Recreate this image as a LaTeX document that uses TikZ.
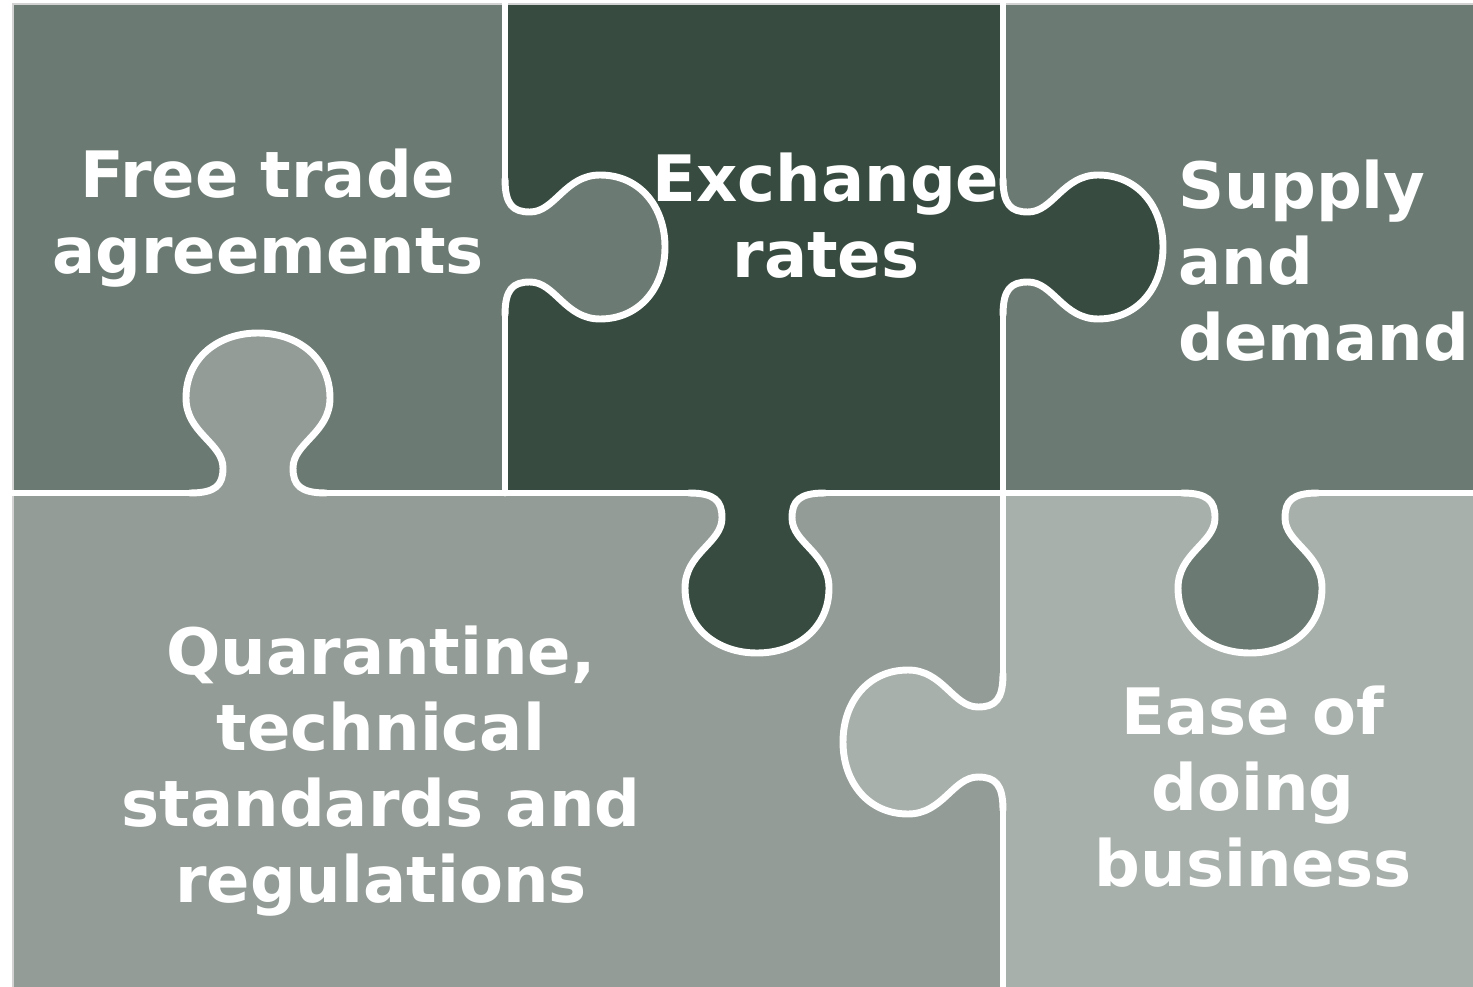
\documentclass[tikz,border=0pt]{standalone}
\usepackage{fontspec}
\setmainfont{DejaVu Sans}

\definecolor{pieceDark}{RGB}{55,75,64}
\definecolor{pieceMid}{RGB}{107,122,114}
\definecolor{pieceLight}{RGB}{147,156,151}
\definecolor{pieceLighter}{RGB}{168,176,171}

\tikzset{
  seam/.style={draw=white,line width=2.6pt,line cap=round,line join=round},
  piecetext/.style={text=white,font=\fontsize{24}{28.5}\selectfont\bfseries,inner sep=0pt}
}

% one knob, pointing along +x from the seam at the origin
\newcommand{\knobcurve}{(0,-68) .. controls (0,-42) and (8,-35) .. (25,-35)
  .. controls (50,-35) and (60,-72) .. (95,-72)
  .. controls (135,-72) and (160,-40) .. (160,0)
  .. controls (160,40) and (135,72) .. (95,72)
  .. controls (60,72) and (50,35) .. (25,35)
  .. controls (8,35) and (0,42) .. (0,68)}

\begin{document}
\begin{tikzpicture}[x=0.75pt,y=-0.75pt,xscale=0.5,yscale=0.5]
\useasboundingbox (0,0) rectangle (1473,987);

%Pieces
\fill[pieceMid] (13,4) rectangle (505,493);
\fill[pieceDark] (505,4) rectangle (1003,493);
\fill[pieceMid] (1003,4) rectangle (1473,493);
\fill[pieceLight] (13,493) rectangle (1003,987);
\fill[pieceLighter] (1003,493) rectangle (1473,987);
\draw[gray!35,line width=0.4pt] (13,987) -- (13,4) -- (1473,4);

%Knobs
\begin{scope}[shift={(505,247)}]
\fill[pieceMid] \knobcurve -- (-4,68) -- (-4,-68) -- cycle;
\draw[seam] \knobcurve;
\end{scope}
\begin{scope}[shift={(1003,247)}]
\fill[pieceDark] \knobcurve -- (-4,68) -- (-4,-68) -- cycle;
\draw[seam] \knobcurve;
\end{scope}
\begin{scope}[shift={(258,493)},rotate=90]
\fill[pieceLight] \knobcurve -- (-4,68) -- (-4,-68) -- cycle;
\draw[seam] \knobcurve;
\end{scope}
\begin{scope}[shift={(757,493)},rotate=-90]
\fill[pieceDark] \knobcurve -- (-4,68) -- (-4,-68) -- cycle;
\draw[seam] \knobcurve;
\end{scope}
\begin{scope}[shift={(1250,493)},rotate=-90]
\fill[pieceMid] \knobcurve -- (-4,68) -- (-4,-68) -- cycle;
\draw[seam] \knobcurve;
\end{scope}
\begin{scope}[shift={(1003,742)},rotate=180]
\fill[pieceLighter] \knobcurve -- (-4,68) -- (-4,-68) -- cycle;
\draw[seam] \knobcurve;
\end{scope}

%Straight seams
\draw[seam] (505,4) -- (505,179) (505,315) -- (505,493);
\draw[seam] (1003,4) -- (1003,179) (1003,315) -- (1003,674) (1003,810) -- (1003,987);
\draw[seam] (13,493) -- (190,493) (326,493) -- (689,493) (825,493) -- (1182,493) (1318,493) -- (1473,493);

%Labels
\node[piecetext,align=center] (freetrade) at (268,218) {Free trade\\agreements};
\node[piecetext,align=center] (exchange) at (826,216) {Exchange\\rates};
\node[piecetext,align=left,anchor=west] (supply) at (1178,261) {Supply\\and\\demand};
\node[piecetext,align=center] (quarantine) at (381,771) {Quarantine,\\technical\\standards and\\regulations};
\node[piecetext,align=center] (ease) at (1253,787) {Ease of\\doing\\business};
\end{tikzpicture}
\end{document}
